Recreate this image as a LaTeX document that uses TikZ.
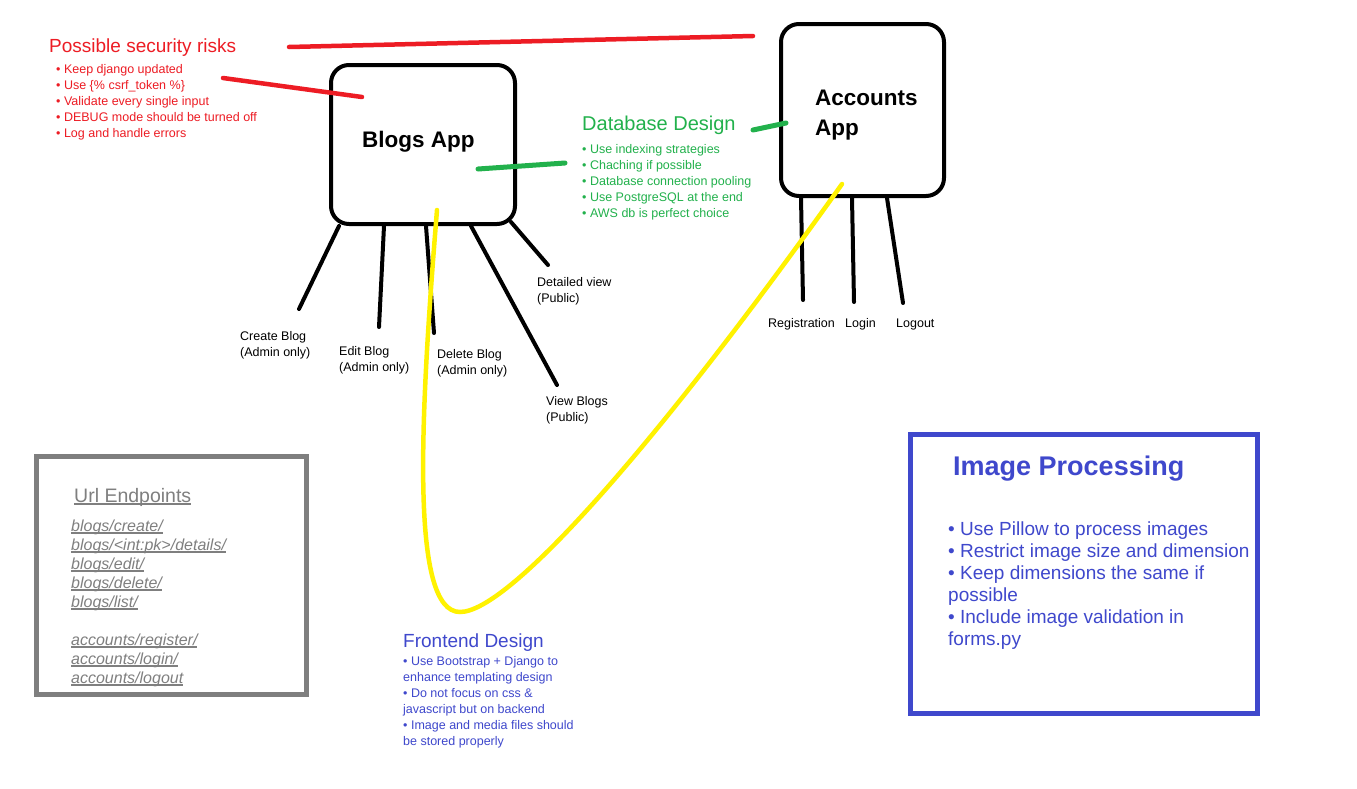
\documentclass[tikz,border=0pt]{standalone}
\usepackage{fontspec}
\setmainfont{Liberation Sans}
\definecolor{paintred}{RGB}{237,28,36}
\definecolor{paintgreen}{RGB}{34,177,76}
\definecolor{paintyellow}{RGB}{255,242,0}
\definecolor{paintblue}{RGB}{63,72,204}
\definecolor{paintgray}{RGB}{127,127,127}
\newcommand{\linkrule}[1]{\setbox0\hbox{#1}\rlap{\rule[-2.5pt]{\wd0}{1.2pt}}\box0}
\tikzset{
  appbox/.style={draw, line width=4pt, rounded corners=18pt, inner sep=0pt},
  infobox/.style={draw, line width=5pt, inner sep=0pt},
  appname/.style={anchor=base west, inner sep=0pt, align=left, font=\bfseries\fontsize{22.5}{30}\selectfont},
  heading/.style={anchor=base west, inner sep=0pt, font=\fontsize{19}{22}\selectfont},
  note/.style={anchor=base west, inner sep=0pt, align=left, font=\fontsize{12.5}{16}\selectfont},
  leg/.style={line width=4pt, line cap=round},
  marker/.style={line width=4.5pt, line cap=round},
}
\begin{document}
\begin{tikzpicture}[x=1pt, y=-1pt]
    \useasboundingbox[fill=white] (0,0) rectangle (1357,788);

    % Apps (multi-line nodes sit on their last baseline)
    \node[appbox, minimum width=184pt, minimum height=159pt] (blogs) at (423,144.5) {};
    \node[appname] (blogs label) at (362,147) {Blogs App};
    \node[appbox, minimum width=163pt, minimum height=172pt] (accounts) at (862.5,110) {};
    \node[appname] (accounts label) at (815,135) {Accounts\\App};

    % Blog views
    \coordinate (create end) at (299,309);
    \coordinate (edit end) at (379,327);
    \coordinate (delete end) at (434,333);
    \coordinate (view end) at (557,385);
    \coordinate (detail end) at (548,265);
    \draw[leg] ([xshift=10pt]blogs.south west) -- (create end);
    \draw[leg] ([xshift=55pt]blogs.south west) -- (edit end);
    \draw[leg] ([xshift=97pt]blogs.south west) -- (delete end);
    \draw[leg] ([xshift=142pt]blogs.south west) -- (view end);
    \draw[leg] ([xshift=-6pt,yshift=4pt]blogs.south east) -- (detail end);
    \node[note] (create) at (240,356) {Create Blog\\(Admin only)};
    \node[note] (edit) at (339,371) {Edit Blog\\(Admin only)};
    \node[note] (delete) at (437,374) {Delete Blog\\(Admin only)};
    \node[note] (view) at (546,421) {View Blogs\\(Public)};
    \node[note] (detail) at (537,302) {Detailed view\\(Public)};

    % Account views
    \coordinate (register end) at (803,300);
    \coordinate (login end) at (854,302);
    \coordinate (logout end) at (903,303);
    \draw[leg] ([xshift=22pt]accounts.south west) -- (register end);
    \draw[leg] ([xshift=73pt]accounts.south west) -- (login end);
    \draw[leg] ([xshift=108pt]accounts.south west) -- (logout end);
    \node[note] (register) at (768,327) {Registration};
    \node[note] (login) at (845,327) {Login};
    \node[note] (logout) at (896,327) {Logout};

    % Security
    \node[heading, text=paintred] (risks) at (49,52) {Possible security risks};
    \node[note, text=paintred] (risk list) at (56,137) {%
        • Keep django updated\\• Use \{\% csrf\_token \%\}\\• Validate every single input\\%
        • DEBUG mode should be turned off\\• Log and handle errors};
    \coordinate (risk top a) at (289,47);
    \coordinate (risk top b) at (753,36);
    \coordinate (risk mid a) at (223,78);
    \coordinate (risk mid b) at (362,97);
    \draw[marker, paintred] (risk top a) -- (risk top b);
    \draw[marker, paintred] (risk mid a) -- (risk mid b);

    % Database
    \node[heading, text=paintgreen, font=\fontsize{20}{22}\selectfont] (db) at (582,130) {Database Design};
    \node[note, text=paintgreen] (db list) at (582,217) {%
        • Use indexing strategies\\• Chaching if possible\\• Database connection pooling\\%
        • Use PostgreSQL at the end\\• AWS db is perfect choice};
    \coordinate (db left a) at (478,169);
    \coordinate (db left b) at (565,163);
    \coordinate (db right a) at (753,130);
    \coordinate (db right b) at (786,123);
    \draw[marker, line width=5pt, paintgreen] (db left a) -- (db left b);
    \draw[marker, line width=5pt, paintgreen] (db right a) -- (db right b);

    % Frontend
    \coordinate (front blogs) at (437,210);
    \coordinate (front low) at (460,612);
    \coordinate (front accounts) at (842,184);
    \draw[marker, paintyellow] (front blogs) .. controls (420,420) and (410,612) .. (front low)
        .. controls (510,612) and (660,440) .. (front accounts);
    \node[heading, text=paintblue] (front) at (403,647) {Frontend Design};
    \node[note, text=paintblue] (front list) at (403,745) {%
        • Use Bootstrap + Django to\\enhance templating design\\• Do not focus on css \&\\%
        javascript but on backend\\• Image and media files should\\be stored properly};

    % Url Endpoints
    \node[infobox, draw=paintgray, minimum width=270pt, minimum height=238pt] (urls) at (171.5,575.5) {};
    \node[heading, text=paintgray, font=\fontsize{19.5}{22}\selectfont] (url title) at (74,502) {\linkrule{Url Endpoints}};
    \node[note, text=paintgray, font=\itshape\fontsize{16}{19}\selectfont] (url list) at (71,683) {%
        \linkrule{blogs/create/}\\\linkrule{blogs/<int:pk>/details/}\\\linkrule{blogs/edit/}\\%
        \linkrule{blogs/delete/}\\\linkrule{blogs/list/}\\[19pt]%
        \linkrule{accounts/register/}\\\linkrule{accounts/login/}\\\linkrule{accounts/logout}};

    % Image Processing
    \node[infobox, draw=paintblue, minimum width=347pt, minimum height=279pt] (images) at (1084,574) {};
    \node[heading, text=paintblue, font=\bfseries\fontsize{27}{30}\selectfont] (image title) at (953,475) {Image Processing};
    \node[note, text=paintblue, font=\fontsize{19}{22}\selectfont] (image list) at (948,645) {%
        • Use Pillow to process images\\• Restrict image size and dimension\\%
        • Keep dimensions the same if\\possible\\• Include image validation in\\forms.py};

\end{tikzpicture}
\end{document}
